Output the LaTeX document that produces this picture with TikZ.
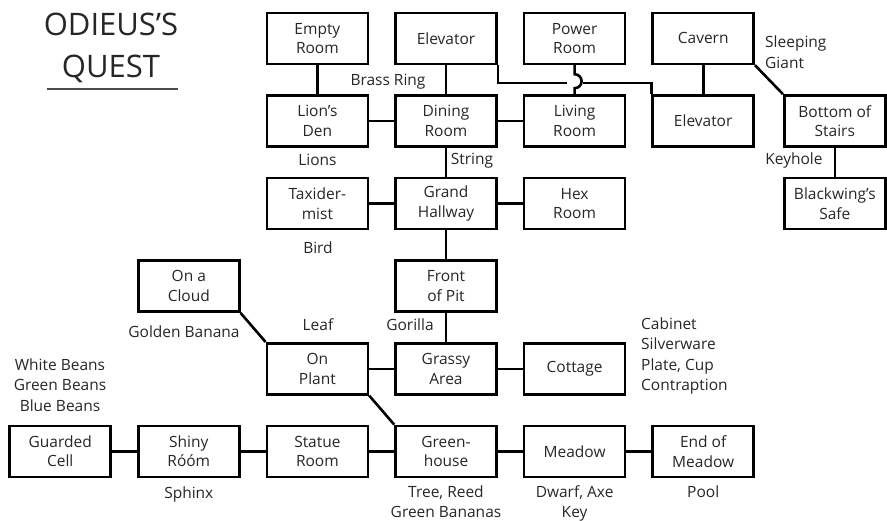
\documentclass[tikz,border=0pt]{standalone}
\usepackage{fontspec}
\setmainfont{Open Sans}
\usetikzlibrary{positioning}

\begin{document}
\begin{tikzpicture}[%Odieus map
  x=1pt, y=-1pt, node distance=29pt and 25pt,
  room/.style={rectangle, draw=black, line width=2.6pt, minimum width=101pt, minimum height=51pt, align=center, text=black!85, font=\fontsize{15.5}{19.5}\selectfont, inner sep=2pt},
  note/.style={align=center, text=black!85, font=\fontsize{15.5}{20.5}\selectfont, inner sep=1pt},
  link/.style={line width=2.6pt}
]
\useasboundingbox (0,0) rectangle (887,520);

%Title
\node[text=black!85, font=\fontsize{31}{42}\selectfont, align=center, inner sep=0pt] (title) at (111,48) {ODIEUS’S\\QUEST};
\draw[line width=1.3pt, black!70] ([xshift=3pt,yshift=-6pt]title.south west) -- ([yshift=-6pt]title.south east);

%Rooms
\node[room] (dining) at (446,121) {Dining\\Room};
\node[room, left=of dining]  (lionden) {Lion’s\\Den};
\node[room, right=of dining] (living) {Living\\Room};
\node[room, above=of dining] (elevA) {Elevator};
\node[room, above=of lionden] (empty) {Empty\\Room};
\node[room, above=of living] (power) {Power\\Room};
\node[room, right=of living] (elevB) {Elevator};
\node[room, above=of elevB] (cavern) {Cavern};
\node[room, right=28pt of elevB] (stairs) {Bottom of\\Stairs};
\node[room, below=of stairs] (safe) {Blackwing’s\\Safe};
\node[room, below=of dining] (grand) {Grand\\Hallway};
\node[room, below=of lionden] (taxi) {Taxider-\\mist};
\node[room, below=of living] (hex) {Hex\\Room};
\node[room, below=of grand] (pit) {Front\\of Pit};
\node[room, below=of pit] (grassy) {Grassy\\Area};
\node[room, left=of grassy] (plant) {On\\Plant};
\node[room, right=of grassy] (cottage) {Cottage};
\node[room, above left=of plant] (cloud) {On a\\Cloud};
\node[room, below=of grassy] (green) {Green-\\house};
\node[room, left=of green] (statue) {Statue\\Room};
\node[room, left=of statue] (shiny) {Shiny\\Róóm};
\node[room, left=of shiny] (guarded) {Guarded\\Cell};
\node[room, right=of green] (meadow) {Meadow};
\node[room, right=of meadow] (endmeadow) {End of\\Meadow};

%Items
\node[note] (brass) at (388,82) {Brass Ring};
\node[note, below=5pt of lionden] (lions) {Lions};
\node[note] (string) at (472,161) {String};
\node[note] (bird) at (318,248) {Bird};
\node[note] (leaf) at (318,325) {Leaf};
\node[note] (gorilla) at (410,325) {Gorilla};
\node[note] (golden) at (184,332) {Golden Banana};
\node[note] (beans) at (60,385) {White Beans\\Green Beans\\Blue Beans};
\node[note, anchor=west, align=left] (giant) at (764,52) {Sleeping\\Giant};
\node[note] (keyhole) at (794,160) {Keyhole};
\node[note, anchor=west, align=left] (cabinet) at (640,356) {Cabinet\\Silverware\\Plate, Cup\\Contraption};
\node[note, below=7pt of shiny] (sphinx) {Sphinx};
\node[note, below=6pt of green] (tree) {Tree, Reed\\Green Bananas};
\node[note, below=6pt of meadow] (dwarf) {Dwarf, Axe\\Key};
\node[note, below=6pt of endmeadow] (pool) {Pool};

%Links
\draw[link] (empty) -- (lionden);
\draw[link] (elevA) -- (dining);
\draw[link] (lionden) -- (dining);
\draw[link] (dining) -- (living);
\draw[link] (dining) -- (grand);
\draw[link] (taxi) -- (grand);
\draw[link] (grand) -- (hex);
\draw[link] (grand) -- (pit);
\draw[link] (pit) -- (grassy);
\draw[link] (plant) -- (grassy);
\draw[link] (grassy) -- (cottage);
\draw[link] (cloud.south east) -- (plant.north west);
\draw[link] (plant.south east) -- (green.north west);
\draw[link] (guarded) -- (shiny);
\draw[link] (shiny) -- (statue);
\draw[link] (statue) -- (green);
\draw[link] (green) -- (meadow);
\draw[link] (meadow) -- (endmeadow);
\draw[link] (cavern) -- (elevB);
\draw[link] (cavern.south east) -- (stairs.north west);
\draw[link] (stairs) -- (safe);

%Elevator shaft with hop
\coordinate (hopL) at (567,83);
\coordinate (hopR) at (583,83);
\draw[link] (elevA.south east) |- (hopL);
\draw[link] (hopR) -| (elevB.north west);
\draw[link] (power.south) -- ++(0,9) arc[start angle=90, end angle=-90, radius=7pt] -- (living.north);
\end{tikzpicture}
\end{document}
